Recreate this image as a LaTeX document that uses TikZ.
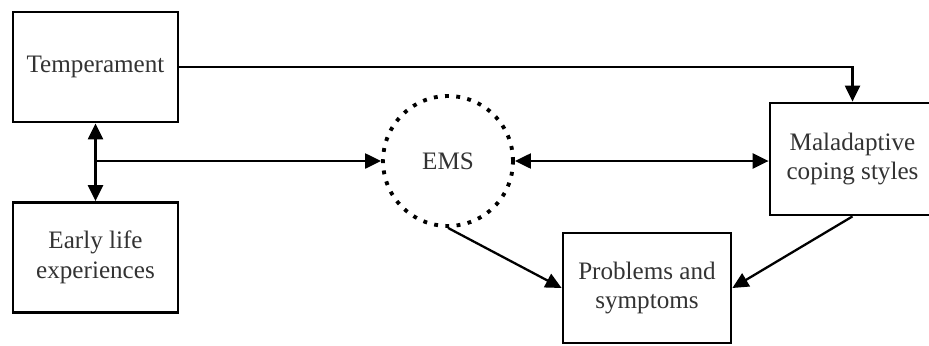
\documentclass[tikz,border=0pt]{standalone}
\usepackage{fontspec}
\setmainfont{Liberation Serif}
\usetikzlibrary{arrows.meta}

\tikzset{every node/.style={draw, fill=white}}

\begin{document}
\begin{tikzpicture}[x=0.02cm, y=-0.02cm,
		every node/.style={draw, line width=1.6pt, fill=white, text=black!80, align=center,
			font=\fontsize{14.3}{17}\selectfont, inner sep=0pt},
		factor/.style={rectangle, minimum width=3.3cm, minimum height=2.2cm},
		schema/.style={circle, draw=black, line width=2.2pt, dash pattern=on 2.2pt off 4.2pt, minimum size=2.6cm},
		link/.style={line width=1.3pt, -{Triangle[length=0.32cm, width=0.3cm]}},
		twoway/.style={line width=1.3pt, {Triangle[length=0.32cm, width=0.3cm]}-{Triangle[length=0.32cm, width=0.3cm]}}]
			\useasboundingbox (0,0) rectangle (929,345);
			% Define vertices
			\node[factor] (T) at (95.5,67) {Temperament};
			\node[factor] (E) at (95.5,257.5) {Early life\\experiences};
			\node[schema] (S) at (448,161) {EMS};
			\node[factor, minimum height=2.24cm] (M) at (852.5,159) {Maladaptive\\coping styles};
			\node[factor, minimum width=3.36cm] (P) at (647,288) {Problems and\\symptoms};
			\coordinate (J) at (95.5,161);
			
			% Draw connectors
			
			% Temperament to coping styles
			\draw[link] (T.east) -| (M.north);
			
			% Temperament and early life
			\draw[twoway] (T.south) -- (E.north);
			
			% Branch into EMS
			\draw[link] (J) -- (S.west);
			
			% EMS and coping styles
			\draw[twoway] (S.east) -- (S.east -| M.west);
			
			% Into problems
			\draw[link] (S.south) -- (P.west);
			\draw[link] (M.south) -- (P.east);
			
		\end{tikzpicture}
\end{document}
